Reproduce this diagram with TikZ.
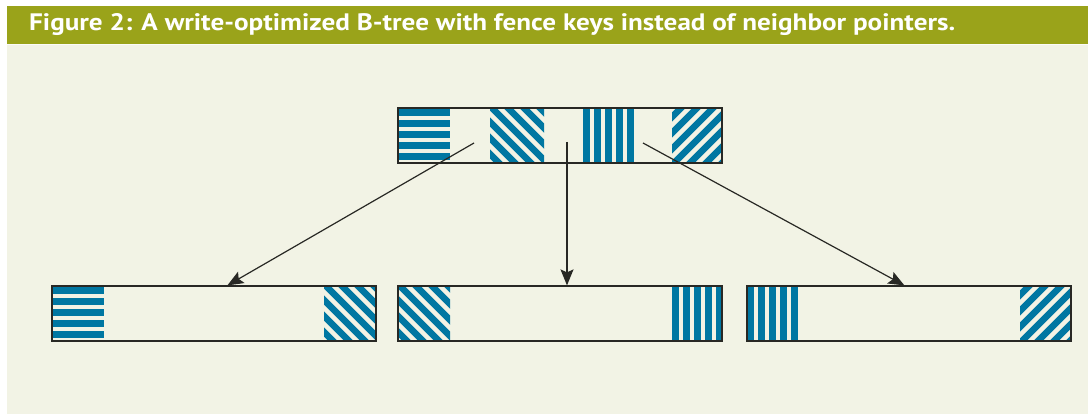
\documentclass[tikz,border=0pt]{standalone}
\usepackage{fontspec}
\usepackage{graphicx}
\setsansfont{PT Sans}
\usetikzlibrary{arrows.meta,calc}

\definecolor{banner}{RGB}{154,163,26}
\definecolor{paper}{RGB}{242,243,229}
\definecolor{keyblue}{RGB}{0,119,162}
\definecolor{edge}{RGB}{40,40,36}

% fence-key fills: #1,#2 = top-left corner, #3,#4 = bottom-right corner
\newcommand\hbars[4]{%
  \foreach \i in {0,...,4}
    \fill[keyblue] (#1,{#2+1+11*\i}) rectangle (#3,{#2+8+11*\i});}
\newcommand\vbars[4]{%
  \foreach \i in {0,...,4}
    \fill[keyblue] ({#1+11*\i},#2) rectangle ({#1+7+11*\i},#4);}
\newcommand\backhatch[4]{%
  \begin{scope}
    \clip (#1,#2) rectangle (#3,#4);
    \foreach \i in {-5,...,5}
      \draw[keyblue,line width=6.5pt] ({#1+16*\i},{#2-2}) -- ++(70,70);
  \end{scope}}
\newcommand\fwdhatch[4]{%
  \begin{scope}
    \clip (#1,#2) rectangle (#3,#4);
    \foreach \i in {-5,...,5}
      \draw[keyblue,line width=6.5pt] ({#1+16*\i},{#4+2}) -- ++(70,-70);
  \end{scope}}

\tikzset{
  nodebox/.style={draw=edge,line width=1.2pt,inner sep=0pt,
    minimum width=324pt,minimum height=55pt},
  ptr/.style={draw=edge,line width=1.2pt,
    -{Stealth[length=16pt,width=13pt,inset=3pt]}},
}

\begin{document}
\begin{tikzpicture}[x=1pt,y=-1pt]
  \useasboundingbox (0,0) rectangle (1088,414);
  \fill[white] (0,0) rectangle (1088,414);
  \fill[paper] (7,44) rectangle (1088,414);
  \fill[banner] (7,6) rectangle (1088,44);
  \draw[white!70!paper,line width=1pt] (7,44.5) -- (1088,44.5);

  \node[anchor=base west,inner sep=0pt,text=white] (title) at (29,31)
    {\resizebox{926pt}{17pt}{\sffamily\bfseries Figure 2: A write-optimized B-tree with fence keys instead of neighbor pointers.}};

  % key fills (drawn first, outlines go on top)
  \hbars{398}{108}{450}{163}
  \backhatch{490}{108}{544}{163}
  \vbars{583}{108}{634}{163}
  \fwdhatch{672}{108}{722}{163}

  \hbars{52}{286}{104}{341}
  \backhatch{324}{286}{376}{341}

  \backhatch{398}{286}{450}{341}
  \vbars{672}{286}{722}{341}

  \vbars{747}{286}{798}{341}
  \fwdhatch{1020}{286}{1071}{341}

  % pages
  \node[nodebox] (root)  at (560,135.5) {};
  \node[nodebox] (leafA) at (214,313.5) {};
  \node[nodebox] (leafB) at (560,313.5) {};
  \node[nodebox] (leafC) at (909,313.5) {};

  % child pointers
  \coordinate (pA) at (474,143);
  \coordinate (pB) at (567,142);
  \coordinate (pC) at (643,143);
  \draw[ptr] (pA) -- ($(leafA.north west)+(176,0)$);
  \draw[ptr] (pB) -- (pB |- leafB.north);
  \draw[ptr] (pC) -- ($(leafC.north west)+(158,0)$);
\end{tikzpicture}
\end{document}
